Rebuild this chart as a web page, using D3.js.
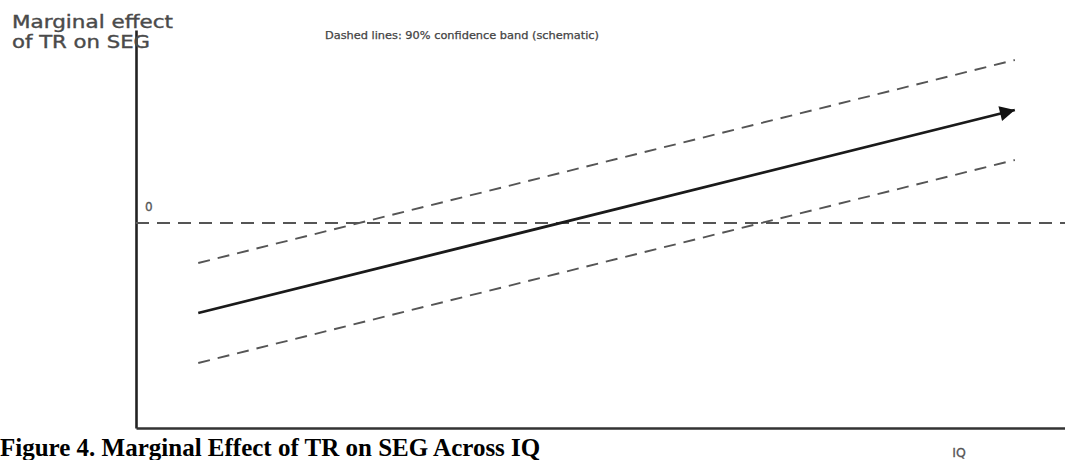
<!DOCTYPE html>
<html>
<head>
<meta charset="utf-8">
<script src="https://cdn.jsdelivr.net/npm/d3@7"></script>
<style>
  html, body { margin: 0; padding: 0; background: #fff; }
  svg { display: block; }
</style>
</head>
<body>
<svg id="chart" width="1065" height="460"></svg>
<script>
// ---- data (schematic) ----
const iqRange = [6.7, 94.6];          // IQ positions where the lines start/end
const effect = [-1.8, 2.26];          // marginal effect at those IQ values
const upperBand = [-0.8, 3.26];       // 90% CI upper bound
const lowerBand = [-2.8, 1.26];       // 90% CI lower bound
const zeroRef = [0];                  // reference line value
const xDomain = [0, 100];
const yDomain = [-4.1, 3.86];
const yAxisLabel = ["Marginal effect", "of TR on SEG"];
const xAxisLabel = "IQ";
const noteText = "Dashed lines: 90% confidence band (schematic)";
const caption = "Figure 4. Marginal Effect of TR on SEG Across IQ";

const svg = d3.select("#chart");
const mLeft = 136, mRight = 1065, mTop = 30, mBottom = 428;

const x = d3.scaleLinear().domain(xDomain).range([mLeft, mRight]);
const y = d3.scaleLinear().domain(yDomain).range([mBottom, mTop]);

// arrow marker
svg.append("defs").append("marker")
  .attr("id", "arrow")
  .attr("viewBox", "0 0 10 10")
  .attr("refX", 10).attr("refY", 5)
  .attr("markerUnits", "userSpaceOnUse")
  .attr("markerWidth", 20).attr("markerHeight", 15)
  .attr("orient", "auto")
  .append("path").attr("d", "M0,0 L10,5 L0,10 z").attr("fill", "#111");

// axes (lines only)
svg.append("g").attr("transform", `translate(${mLeft},0)`)
  .call(d3.axisLeft(y).tickValues([]).tickSizeOuter(0))
  .call(g => g.select(".domain").attr("stroke", "#222").attr("stroke-width", 2.6));
svg.append("g").attr("transform", `translate(0,${mBottom})`)
  .call(d3.axisBottom(x).tickValues([]).tickSizeOuter(0))
  .call(g => g.select(".domain").attr("stroke", "#333").attr("stroke-width", 2.6));

// zero reference line
svg.selectAll(".zero").data(zeroRef).join("line")
  .attr("class", "zero")
  .attr("x1", x(xDomain[0])).attr("x2", x(xDomain[1]))
  .attr("y1", d => y(d)).attr("y2", d => y(d))
  .attr("stroke", "#555").attr("stroke-width", 2.2)
  .attr("stroke-dasharray", "13,8");

svg.selectAll(".zerolab").data(zeroRef).join("text")
  .attr("x", mLeft + 9).attr("y", d => y(d) - 12)
  .attr("font-family", "DejaVu Sans, sans-serif").attr("font-size", 12)
  .attr("fill", "#555").attr("stroke", "#555").attr("stroke-width", 0.3)
  .text(d => String(d));

const line = d3.line().x(d => x(d[0])).y(d => y(d[1]));

// confidence band
[upperBand, lowerBand].forEach(b => {
  svg.append("path")
    .datum(iqRange.map((v, i) => [v, b[i]]))
    .attr("d", line)
    .attr("fill", "none").attr("stroke", "#555").attr("stroke-width", 1.9)
    .attr("stroke-dasharray", "12,8");
});

// main effect line with arrow
svg.append("path")
  .datum(iqRange.map((v, i) => [v, effect[i]]))
  .attr("d", line)
  .attr("fill", "none").attr("stroke", "#1a1a1a").attr("stroke-width", 2.8)
  .attr("marker-end", "url(#arrow)");

// y-axis label (glyphs slightly stretched like the reference)
const yLabLens = [161, 138];
svg.append("g").selectAll("text").data(yAxisLabel).join("text")
  .attr("font-family", "DejaVu Sans, sans-serif").attr("font-size", 18)
  .attr("fill", "#4a4a4a").attr("stroke", "#4a4a4a").attr("stroke-width", 0.4)
  .attr("x", 12).attr("y", (d, i) => 28 + i * 20)
  .attr("textLength", (d, i) => yLabLens[i])
  .attr("lengthAdjust", "spacingAndGlyphs")
  .text(d => d);

// note
svg.append("text")
  .attr("x", 325).attr("y", 39)
  .attr("font-family", "DejaVu Sans, sans-serif").attr("font-size", 10.5)
  .attr("textLength", 274).attr("lengthAdjust", "spacingAndGlyphs")
  .attr("fill", "#444").attr("stroke", "#444").attr("stroke-width", 0.25)
  .text(noteText);

// x-axis label
svg.append("text")
  .attr("x", 959).attr("y", 457).attr("text-anchor", "middle")
  .attr("font-family", "DejaVu Sans, sans-serif").attr("font-size", 12.5)
  .attr("fill", "#555").attr("stroke", "#555").attr("stroke-width", 0.3)
  .text(xAxisLabel);

// caption
svg.append("text")
  .attr("x", 0).attr("y", 456)
  .attr("font-family", "Liberation Serif, Times New Roman, serif")
  .attr("font-weight", "bold").attr("font-size", 25)
  .attr("fill", "#000").text(caption);
</script>
</body>
</html>
